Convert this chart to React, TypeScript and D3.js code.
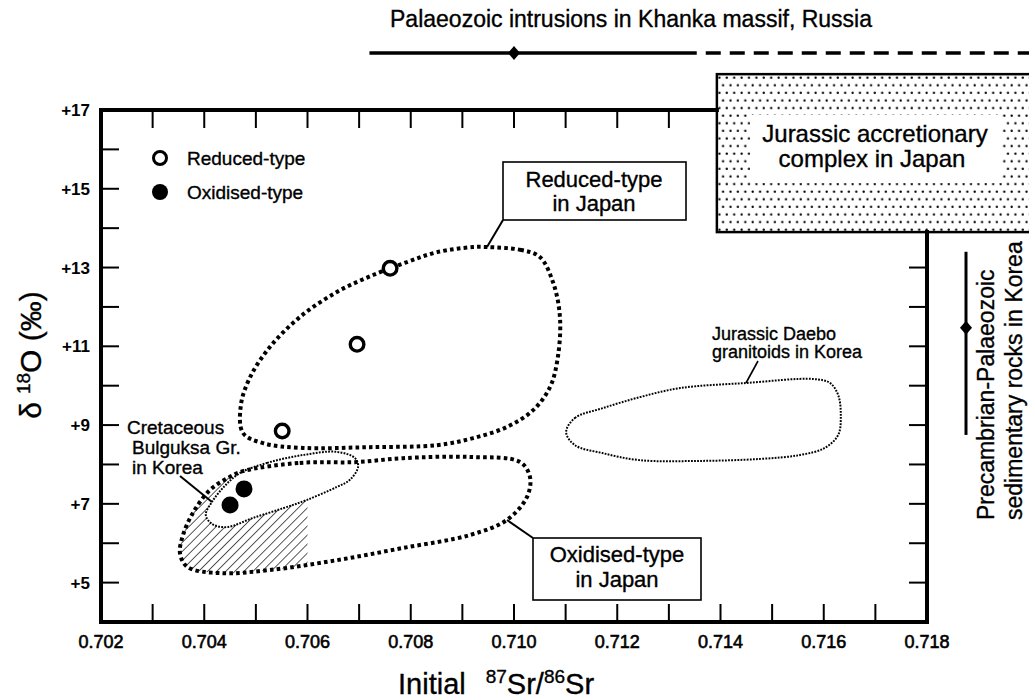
import React from "react";
import * as d3 from "d3";

// ---------- data ----------
const xMajorTicks = [0.702, 0.704, 0.706, 0.708, 0.71, 0.712, 0.714, 0.716, 0.718];
const xTickLabels = ["0.702", "0.704", "0.706", "0.708", "0.710", "0.712", "0.714", "0.716", "0.718"];
const yLabelTicks = [5, 7, 9, 11, 13, 15, 17];
const yTickLabels = ["+5", "+7", "+9", "+11", "+13", "+15", "+17"];

const reducedPoints: [number, number][] = [
  [0.7076, 12.98],
  [0.70696, 11.05],
  [0.70551, 8.85],
];
const oxidisedPoints: [number, number][] = [
  [0.7045, 6.97],
  [0.70477, 7.38],
];

const reducedField: [number, number][] = [
  [0.70948, 13.52], [0.71012, 13.45], [0.7105, 13.27], [0.71076, 12.61], [0.71089, 11.74],
  [0.71085, 10.73], [0.7107, 9.97], [0.71037, 9.38], [0.70986, 8.95], [0.70921, 8.67],
  [0.70851, 8.49], [0.70721, 8.44], [0.70591, 8.42], [0.70514, 8.54], [0.70475, 8.8],
  [0.70471, 9.51], [0.70489, 10.22], [0.70527, 10.98], [0.70585, 11.74], [0.70657, 12.38],
  [0.70727, 12.81], [0.70793, 13.14], [0.70851, 13.39], [0.70921, 13.52],
];
const oxidisedField: [number, number][] = [
  [0.70475, 7.83], [0.70585, 8.04], [0.70696, 8.06], [0.70785, 8.16], [0.70915, 8.19],
  [0.71012, 8.06], [0.71031, 7.68], [0.71025, 7.17], [0.70986, 6.59], [0.70915, 6.21],
  [0.70785, 5.88], [0.70657, 5.57], [0.70527, 5.32], [0.70431, 5.24], [0.70367, 5.4],
  [0.70353, 5.75], [0.70359, 6.21], [0.70378, 6.77], [0.70411, 7.35], [0.70446, 7.66],
];
const bulguksaField: [number, number][] = [
  [0.70469, 7.78], [0.70522, 8.04], [0.70591, 8.24], [0.70657, 8.32], [0.70692, 8.16],
  [0.70698, 7.94], [0.70682, 7.61], [0.70657, 7.43], [0.70599, 7.1], [0.70553, 6.89],
  [0.70494, 6.64], [0.70444, 6.41], [0.70415, 6.49], [0.70403, 6.72], [0.70415, 7.05],
  [0.70438, 7.43],
];
const bulguksaHatchMaxSr = 0.706;
const daeboField: [number, number][] = [
  [0.71101, 8.82], [0.71118, 9.18], [0.71172, 9.43], [0.71244, 9.71], [0.71322, 9.94],
  [0.71451, 10.07], [0.71579, 10.17], [0.71612, 10.07], [0.71628, 9.76], [0.71633, 9.26],
  [0.71628, 8.75], [0.71602, 8.42], [0.71554, 8.24], [0.71476, 8.14], [0.7136, 8.09],
  [0.71243, 8.11], [0.71171, 8.29], [0.71118, 8.49],
];

const khankaSolid = [0.7072, 0.71354];
const khankaDashed = [0.71354, 0.7215];
const khankaMean = 0.71;
const precambrianRange = [8.75, 13.4];
const precambrianMean = 11.47;
const jurassicSr = [0.71393, 0.7215];
const jurassicD18O = [13.9, 17.91];

// ---------- layout ----------
const W = 1029;
const H = 700;
const FONT = "'Liberation Sans', Arial, Helvetica, sans-serif";
const KHANKA_Y = 53;
const PRECAMBRIAN_X = 966;
const TXT = { stroke: "#000", strokeWidth: 0.35 };

export default function App() {
  const x = d3.scaleLinear().domain([0.702, 0.718]).range([101, 927]);
  const y = d3.scaleLinear().domain([4, 17]).range([622, 110]);
  const [x0, x1] = x.range();
  const [y0, y1] = y.range();

  const closed = d3
    .line<[number, number]>()
    .x((d) => x(d[0]))
    .y((d) => y(d[1]))
    .curve(d3.curveCatmullRomClosed.alpha(0.5));

  const minorX = d3.range(0.703, 0.7175, 0.001);
  const topTicks = minorX.filter((v) => x(v) < x(jurassicSr[0]) - 4);
  const leftTicks = d3.range(5, 16.5, 1);
  const rightTicks = leftTicks.filter((v) => y(v) > y(jurassicD18O[0]) + 4);

  const boxX = x(jurassicSr[0]);
  const boxY = y(jurassicD18O[1]);
  const boxBottom = y(jurassicD18O[0]);

  const tickLen = 18;

  return (
    <svg
      width={W}
      height={H}
      style={{ position: "absolute", left: 0, top: 0, background: "#fff" }}
      fontFamily={FONT}
    >
      <defs>
        <pattern id="dots" patternUnits="userSpaceOnUse" width={7.4} height={15.2}>
          <circle cx={1.6} cy={1.6} r={1.15} fill="#000" />
          <circle cx={5.3} cy={9.2} r={1.15} fill="#000" />
        </pattern>
        <pattern
          id="hatch"
          patternUnits="userSpaceOnUse"
          width={6.4}
          height={10}
          patternTransform="rotate(45)"
        >
          <line x1={0} y1={0} x2={0} y2={10} stroke="#000" strokeWidth={1.3} />
        </pattern>
        <clipPath id="oxClip">
          <path d={closed(oxidisedField) || ""} />
        </clipPath>
      </defs>

      <rect x={0} y={0} width={W} height={H} fill="#fff" />

      {/* Khanka range (top) */}
      <text x={631} y={27} fontSize={23} textAnchor="middle" {...TXT}>
        Palaeozoic intrusions in Khanka massif, Russia
      </text>
      <line x1={x(khankaSolid[0])} x2={x(khankaSolid[1])} y1={KHANKA_Y} y2={KHANKA_Y} stroke="#000" strokeWidth={3.5} />
      <line
        x1={x(khankaDashed[0])}
        x2={x(khankaDashed[1])}
        y1={KHANKA_Y}
        y2={KHANKA_Y}
        stroke="#000"
        strokeWidth={3.5}
        strokeDasharray="15 9"
        strokeDashoffset={-9}
      />
      <path
        d={`M${x(khankaMean) - 6},${KHANKA_Y} L${x(khankaMean)},${KHANKA_Y - 7} L${x(khankaMean) + 6},${KHANKA_Y} L${x(khankaMean)},${KHANKA_Y + 7} Z`}
        fill="#000"
      />

      {/* Jurassic accretionary complex box */}
      <rect x={boxX} y={boxY} width={W - boxX + 10} height={boxBottom - boxY} fill="url(#dots)" stroke="#000" strokeWidth={2.5} />
      <rect x={750} y={115} width={252} height={68} fill="#fff" />
      <text x={875} y={142} fontSize={24} textAnchor="middle" {...TXT}>Jurassic accretionary</text>
      <text x={872} y={167} fontSize={24} textAnchor="middle" {...TXT}>complex in Japan</text>

      {/* Precambrian–Palaeozoic range (right) */}
      <line x1={PRECAMBRIAN_X} x2={PRECAMBRIAN_X} y1={y(precambrianRange[1])} y2={y(precambrianRange[0])} stroke="#000" strokeWidth={3} />
      <path
        d={`M${PRECAMBRIAN_X - 6},${y(precambrianMean)} L${PRECAMBRIAN_X},${y(precambrianMean) - 7} L${PRECAMBRIAN_X + 6},${y(precambrianMean)} L${PRECAMBRIAN_X},${y(precambrianMean) + 7} Z`}
        fill="#000"
      />
      <text transform={`translate(994,520) rotate(-90)`} fontSize={23} {...TXT}>Precambrian-Palaeozoic</text>
      <text transform={`translate(1022,520) rotate(-90)`} fontSize={23} {...TXT}>sedimentary rocks in Korea</text>

      {/* hatched area */}
      <g clipPath="url(#oxClip)">
        <rect x={x0} y={y1} width={x(bulguksaHatchMaxSr) - x0} height={y0 - y1} fill="url(#hatch)" />
      </g>
      <path d={closed(bulguksaField) || ""} fill="#fff" stroke="none" />

      {/* fields */}
      <path d={closed(daeboField) || ""} fill="none" stroke="#000" strokeWidth={2} strokeDasharray="1.8 1.3" />
      <path d={closed(bulguksaField) || ""} fill="none" stroke="#000" strokeWidth={2} strokeDasharray="1.8 1.3" />
      <path d={closed(reducedField) || ""} fill="none" stroke="#000" strokeWidth={4} strokeDasharray="3.6 3.2" />
      <path d={closed(oxidisedField) || ""} fill="none" stroke="#000" strokeWidth={4} strokeDasharray="3.6 3.2" />

      {/* axes frame */}
      <g stroke="#000" strokeLinecap="square">
        <line x1={x0} x2={boxX} y1={y1} y2={y1} strokeWidth={4} />
        <line x1={x0} x2={x0} y1={y1} y2={y0} strokeWidth={4} />
        <line x1={x0} x2={x1} y1={y0} y2={y0} strokeWidth={4} />
        <line x1={x1} x2={x1} y1={boxBottom} y2={y0} strokeWidth={4} />
      </g>
      <g stroke="#000" strokeWidth={2}>
        {minorX.map((v) => (
          <line key={"b" + v} x1={x(v)} x2={x(v)} y1={y0} y2={y0 - tickLen} />
        ))}
        {topTicks.map((v) => (
          <line key={"t" + v} x1={x(v)} x2={x(v)} y1={y1} y2={y1 + tickLen} />
        ))}
        {leftTicks.map((v) => (
          <line key={"l" + v} x1={x0} x2={x0 + tickLen} y1={y(v)} y2={y(v)} />
        ))}
        {rightTicks.map((v) => (
          <line key={"r" + v} x1={x1} x2={x1 - tickLen} y1={y(v)} y2={y(v)} />
        ))}
      </g>

      {/* tick labels */}
      {xMajorTicks.map((v, i) => (
        <text key={"xl" + v} x={x(v)} y={648} fontSize={18} textAnchor="middle" stroke="#000" strokeWidth={0.6}>
          {xTickLabels[i]}
        </text>
      ))}
      {yLabelTicks.map((v, i) => (
        <text key={"yl" + v} x={90} y={y(v) + 6} fontSize={17} fontWeight="bold" textAnchor="end">
          {yTickLabels[i]}
        </text>
      ))}

      {/* axis titles */}
      <text x={398} y={694} fontSize={29} {...TXT}>
        Initial
        <tspan dx={20} dy={-11} fontSize={19}>87</tspan>
        <tspan dy={11}>Sr/</tspan>
        <tspan dy={-11} fontSize={19}>86</tspan>
        <tspan dy={11}>Sr</tspan>
      </text>
      <text transform="translate(41,355) rotate(-90)" fontSize={30} textAnchor="middle" {...TXT}>
        δ
        <tspan dx={8} dy={-11} fontSize={19}>18</tspan>
        <tspan dy={11}>O (‰)</tspan>
      </text>

      {/* legend */}
      <circle cx={160} cy={158} r={6.5} fill="#fff" stroke="#000" strokeWidth={3} />
      <text x={187} y={165} fontSize={19} {...TXT}>Reduced-type</text>
      <circle cx={160} cy={192} r={8} fill="#000" />
      <text x={187} y={199} fontSize={19} {...TXT}>Oxidised-type</text>

      {/* points */}
      {reducedPoints.map((d, i) => (
        <circle key={"rp" + i} cx={x(d[0])} cy={y(d[1])} r={6.8} fill="#fff" stroke="#000" strokeWidth={3.4} />
      ))}
      {oxidisedPoints.map((d, i) => (
        <circle key={"op" + i} cx={x(d[0])} cy={y(d[1])} r={8.5} fill="#000" />
      ))}

      {/* field labels */}
      <line x1={487} y1={247} x2={503} y2={220} stroke="#000" strokeWidth={2} />
      <rect x={503} y={162} width={183} height={58} fill="#fff" stroke="#000" strokeWidth={1.6} />
      <text x={594} y={187} fontSize={22} textAnchor="middle" {...TXT}>Reduced-type</text>
      <text x={594} y={211} fontSize={22} textAnchor="middle" {...TXT}>in Japan</text>

      <line x1={507} y1={520} x2={533} y2={538} stroke="#000" strokeWidth={2} />
      <rect x={533} y={538} width={168} height={62} fill="#fff" stroke="#000" strokeWidth={1.6} />
      <text x={617} y={562} fontSize={22} textAnchor="middle" {...TXT}>Oxidised-type</text>
      <text x={617} y={587} fontSize={22} textAnchor="middle" {...TXT}>in Japan</text>

      <line x1={746} y1={383} x2={758} y2={361} stroke="#000" strokeWidth={1.6} />
      <text x={712} y={340} fontSize={18} {...TXT}>Jurassic Daebo</text>
      <text x={712} y={358} fontSize={18} {...TXT}>granitoids in Korea</text>

      <line x1={180} y1={476} x2={212} y2={502} stroke="#000" strokeWidth={2} />
      <text x={127} y={434} fontSize={19} {...TXT}>Cretaceous</text>
      <text x={132} y={454} fontSize={19} {...TXT}>Bulguksa Gr.</text>
      <text x={132} y={474} fontSize={19} {...TXT}>in Korea</text>
    </svg>
  );
}
